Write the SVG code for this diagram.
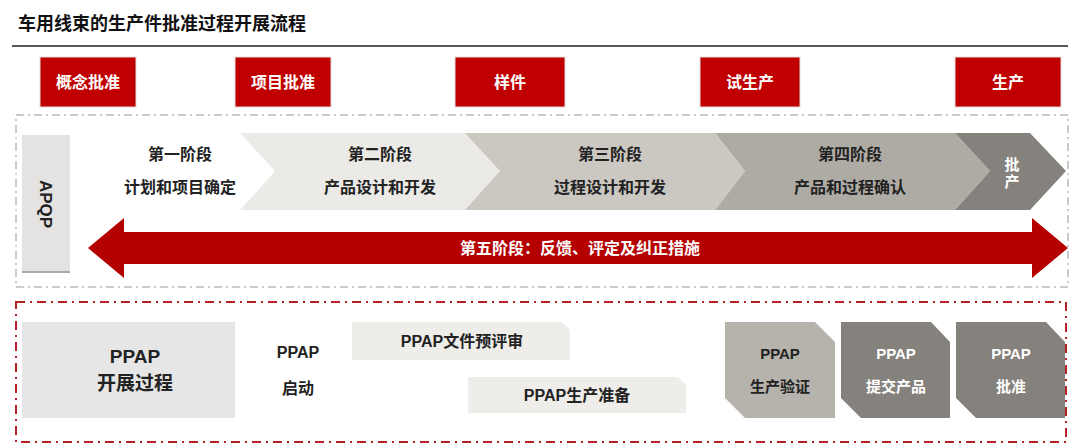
<svg xmlns="http://www.w3.org/2000/svg" width="1080" height="448" viewBox="0 0 1080 448">
<style>
text{font-family:"Liberation Sans","Noto Sans CJK SC",sans-serif;font-weight:bold;text-anchor:middle}
.top{fill:#c00000;stroke:#ddd;stroke-width:1}
.tw{fill:#fff;font-size:16px}
.tk{fill:#222;font-size:16px}
.pl{fill:#eeedea}
</style>
<rect width="1080" height="448" fill="#fff"/>
<text x="18" y="30" style="text-anchor:start;font-size:18px;fill:#111">车用线束的生产件批准过程开展流程</text>
<line x1="12" y1="46" x2="1068" y2="46" stroke="#222" stroke-width="1.5"/>
<g id="top-boxes">
<g id="t1"><rect class="top" x="40" y="57" width="96" height="50"/><text class="tw" x="88" y="88">概念批准</text></g>
<g id="t2"><rect class="top" x="235" y="57" width="96" height="50"/><text class="tw" x="283" y="88">项目批准</text></g>
<g id="t3"><rect class="top" x="455" y="57" width="110" height="50"/><text class="tw" x="510" y="88">样件</text></g>
<g id="t4"><rect class="top" x="700" y="57" width="100" height="50"/><text class="tw" x="750" y="88">试生产</text></g>
<g id="t5"><rect class="top" x="955" y="57" width="106" height="50"/><text class="tw" x="1008" y="88">生产</text></g>
</g>
<rect x="16" y="115" width="1052" height="172" fill="none" stroke="#bbb" stroke-width="1.5" stroke-dasharray="8,4,2,4"/>
<g id="apqp"><rect x="22" y="135" width="48" height="137" fill="#e4e3e1"/><line x1="22" y1="272" x2="70" y2="272" stroke="#aaa" stroke-width="2"/><text transform="translate(40,204) rotate(90)" class="tk" style="font-size:17px">APQP</text></g>
<g id="stages">
<g id="s1"><text class="tk" x="180" y="160">第一阶段</text><text class="tk" x="180" y="193">计划和项目确定</text></g>
<g id="s2"><polygon points="240,133 480,133 510,171 480,210 240,210 275,171" fill="#ebeae6"/><text class="tk" x="380" y="160">第二阶段</text><text class="tk" x="380" y="193">产品设计和开发</text></g>
<g id="s3"><polygon points="465,133 715,133 745,171 715,210 465,210 500,171" fill="#cbc8c2"/><text class="tk" x="610" y="160">第三阶段</text><text class="tk" x="610" y="193">过程设计和开发</text></g>
<g id="s4"><polygon points="715,133 955,133 990,171 955,210 715,210 745,171" fill="#aeaba5"/><text class="tk" x="850" y="160">第四阶段</text><text class="tk" x="850" y="193">产品和过程确认</text></g>
<g id="s5"><polygon points="955,133 1030,133 1066,171 1030,210 955,210 990,171" fill="#85817c"/><text class="tw" x="1012" y="170" style="font-size:15px">批</text><text class="tw" x="1012" y="187" style="font-size:15px">产</text></g>
</g>
<g id="connectors"><polygon points="88,248 124,218 124,232 1032,232 1032,218 1068,248 1032,278 1032,264 124,264 124,278" fill="#b50000"/></g>
<text class="tw" x="580" y="254">第五阶段：反馈、评定及纠正措施</text>
<rect x="16" y="302" width="1050" height="140" fill="none" stroke="#b52025" stroke-width="2" stroke-dasharray="9,5,2,5"/>
<g id="ppap">
<g id="p0"><rect x="22" y="322" width="213" height="96" fill="#e6e6e6"/><text class="tk" x="135" y="363" style="font-size:19px">PPAP</text><text class="tk" x="135" y="390" style="font-size:19px">开展过程</text></g>
<g id="p1"><text class="tk" x="298" y="358">PPAP</text><text class="tk" x="298" y="394">启动</text></g>
<g id="p2"><polygon class="pl" points="352,322 562,322 570,330 570,360 352,360"/><text class="tk" x="462" y="347">PPAP文件预评审</text></g>
<g id="p3"><polygon class="pl" points="468,377 678,377 686,385 686,413 468,413"/><text class="tk" x="577" y="401">PPAP生产准备</text></g>
<g id="p4"><polygon points="725,322 815,322 835,342 835,418 745,418 725,398" fill="#b6b2ac"/><text class="tk" x="780" y="359" style="font-size:15px">PPAP</text><text class="tk" x="780" y="392" style="font-size:15px">生产验证</text></g>
<g id="p5"><polygon points="841,322 931,322 950,342 950,418 861,418 841,398" fill="#85817c"/><text class="tw" x="896" y="359" style="font-size:15px">PPAP</text><text class="tw" x="896" y="392" style="font-size:15px">提交产品</text></g>
<g id="p6"><polygon points="956,322 1046,322 1065,342 1065,418 976,418 956,398" fill="#85817c"/><text class="tw" x="1011" y="359" style="font-size:15px">PPAP</text><text class="tw" x="1011" y="392" style="font-size:15px">批准</text></g>
</g>
</svg>
